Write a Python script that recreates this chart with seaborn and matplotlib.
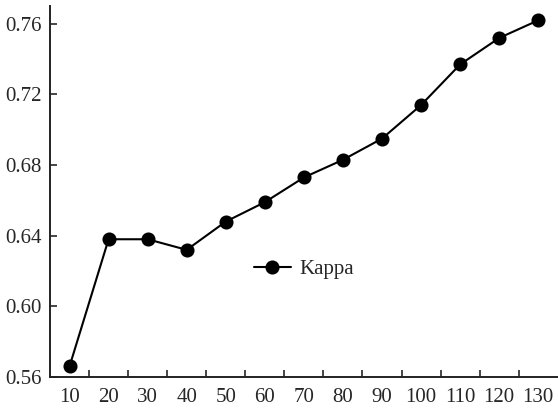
import numpy as np
import pandas as pd
import seaborn as sns
import matplotlib.pyplot as plt
from matplotlib.ticker import FixedLocator

sns.set_style("white")
plt.rcParams['font.family'] = ['Liberation Serif', 'DejaVu Serif']

sizes = [10, 20, 30, 40, 50, 60, 70, 80, 90, 100, 110, 120, 130]
kappa = [0.566, 0.638, 0.638, 0.632, 0.648, 0.659, 0.673, 0.683, 0.695, 0.714, 0.737, 0.752, 0.762]
yticks = [0.56, 0.60, 0.64, 0.68, 0.72, 0.76]

df = pd.DataFrame({"size": [str(s) for s in sizes], "kappa": kappa})

fig = plt.figure(figsize=(5.58, 4.12), dpi=100)
ax = fig.add_axes([0.0896, 0.085, 0.910, 0.900])

sns.pointplot(data=df, x="size", y="kappa", color="black", markers="o",
              markersize=9, linewidth=1.5, label="Kappa", ax=ax)

ax.set_xlim(-0.5, len(sizes) - 0.5)
ax.set_ylim(0.56, 0.770)
ax.set_yticks(yticks)
ax.set_yticklabels(["%.2f" % v for v in yticks])
ax.xaxis.set_minor_locator(FixedLocator(np.arange(0.5, len(sizes) - 1, 1.0)))
ax.tick_params(axis="x", which="major", length=0, labelsize=15, pad=8)
ax.tick_params(axis="x", which="minor", direction="in", length=5, width=1.2, bottom=True)
ax.tick_params(axis="y", direction="in", length=5, width=1.2, labelsize=15, left=True, pad=6)
ax.set_xlabel("")
ax.set_ylabel("")

sns.despine(ax=ax)
for s in ["left", "bottom"]:
    ax.spines[s].set_color("#222222")
    ax.spines[s].set_linewidth(1.4)

ax.legend(loc="center", bbox_to_anchor=(0.50, 0.29), frameon=False, fontsize=15,
          handlelength=1.8, handletextpad=0.4)

plt.savefig("out.png", dpi=100)
